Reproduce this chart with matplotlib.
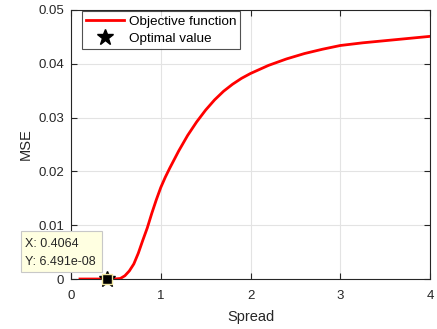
import numpy as np
import matplotlib.pyplot as plt
from matplotlib.patches import Rectangle

plt.rcParams['font.family'] = ['Liberation Sans', 'DejaVu Sans']

# objective function (MSE vs spread)
spread = [0.1, 0.2, 0.3, 0.4, 0.5, 0.55, 0.6, 0.65, 0.7, 0.75, 0.8, 0.85, 0.9, 0.95,
          1.0, 1.05, 1.1, 1.15, 1.2, 1.3, 1.4, 1.5, 1.6, 1.7, 1.8, 1.9, 2.0, 2.2, 2.4,
          2.6, 2.8, 3.0, 3.25, 3.5, 3.75, 4.0]
mse = [0.0, 0.0, 0.0, 0.0, 0.00002, 0.0001, 0.0006, 0.0015, 0.0028, 0.0048, 0.0072,
       0.0095, 0.0122, 0.0147, 0.0170, 0.0189, 0.0206, 0.0222, 0.0238, 0.0267, 0.0292,
       0.0314, 0.0333, 0.0349, 0.0362, 0.0373, 0.0382, 0.0397, 0.0409, 0.0419, 0.0427,
       0.0434, 0.0439, 0.0443, 0.0447, 0.0451]

opt_x = 0.4064
opt_y = 6.491e-08
tip_lines = ['X: 0.4064', 'Y: 6.491e-08']

W, H = 437, 329
fig = plt.figure(figsize=(W / 100, H / 100), dpi=100)
ax = fig.add_axes([71 / W, 1 - 279 / H, 359 / W, 269 / H])

ax.plot(spread, mse, color='red', lw=2, label='Objective function', zorder=3)
ax.plot(opt_x, opt_y, '*', color='black', ms=12, lw=0, label='Optimal value', zorder=4,
        clip_on=False)
# datatip marker
ax.plot(opt_x, opt_y, 's', color='black', ms=7, mec='#f0e6a0', mew=1, zorder=5, clip_on=False)

ax.set_xlim(0, 4)
ax.set_ylim(0, 0.05)
ax.set_xticks([0, 1, 2, 3, 4])
ax.set_yticks([0, 0.01, 0.02, 0.03, 0.04, 0.05])
ax.set_yticklabels(['0', '0.01', '0.02', '0.03', '0.04', '0.05'])
ax.grid(True, color='#e3e3e3', lw=0.8)
ax.set_axisbelow(True)
ax.tick_params(direction='in', top=True, right=True, labelsize=9.5, colors='#262626', length=4)
ax.tick_params(axis='x', pad=8)
ax.tick_params(axis='y', pad=5)
for s in ax.spines.values():
    s.set_color('#262626')
ax.set_xlabel('Spread', fontsize=10.5, color='#262626', labelpad=6)
ax.set_ylabel('MSE', fontsize=10.5, color='#262626', labelpad=4)

leg = ax.legend(loc='upper left', bbox_to_anchor=(0.03, 0.995), fontsize=9.7, frameon=True,
                fancybox=False, edgecolor='#262626', borderpad=0.3, handlelength=2.8,
                labelspacing=0.35, handletextpad=0.4, borderaxespad=0.0)
leg.get_frame().set_linewidth(0.8)

# datatip box
fig.patches.append(Rectangle((21 / W, 1 - 272 / H), 81 / W, 41 / H, transform=fig.transFigure,
                             fc='#ffffe1', ec='#c8c8c8', lw=0.8, zorder=10))
for i, line in enumerate(tip_lines):
    fig.text(25 / W, 1 - (244 + 17.7 * i) / H, line, fontsize=9, va='center', ha='left',
             color='#262626', zorder=11)

fig.savefig('out.png', dpi=100)
